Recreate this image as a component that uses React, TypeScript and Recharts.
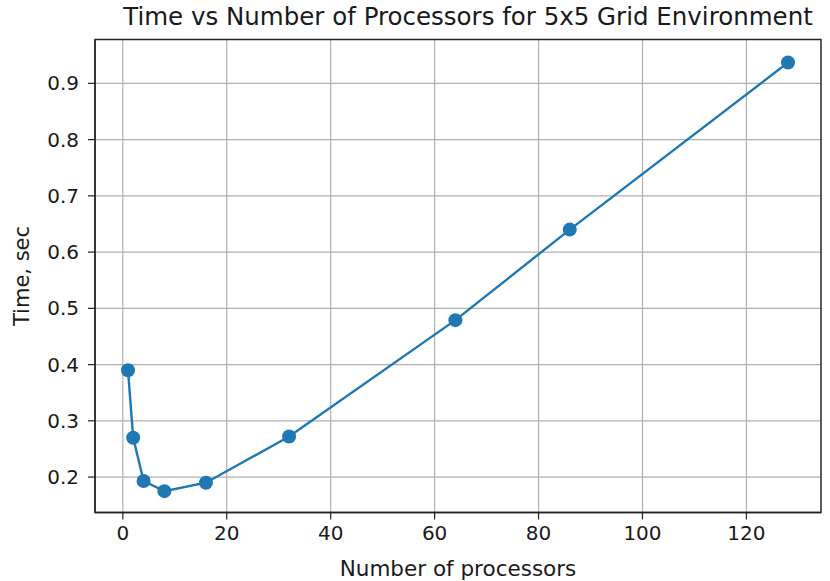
import React from 'react';
import { LineChart, Line, XAxis, YAxis, CartesianGrid, ReferenceArea } from 'recharts';

const processors = [1, 2, 4, 8, 16, 32, 64, 86, 128];
const times = [0.39, 0.27, 0.193, 0.175, 0.19, 0.272, 0.479, 0.64, 0.937];
const xTicks = [0, 20, 40, 60, 80, 100, 120];
const yTicks = [0.2, 0.3, 0.4, 0.5, 0.6, 0.7, 0.8, 0.9];
const xDomain: [number, number] = [-5.35, 134.35];
const yDomain: [number, number] = [0.137, 0.978];

const data = processors.map((p, i) => ({ x: p, y: times[i] }));

const FONT = '"DejaVu Sans", sans-serif';
const tickStyle = { fill: '#1a1a1a', fontSize: 20, fontFamily: FONT };

export default function App() {
  return (
    <div style={{ position: 'relative', width: 830, height: 581, background: '#fff', fontFamily: FONT }}>
      <style>{`body{margin:0;background:#fff}`}</style>
      <div
        style={{
          position: 'absolute',
          left: 105,
          width: 726,
          top: 2,
          textAlign: 'center',
          fontSize: 24.5,
          color: '#1a1a1a',
          whiteSpace: 'nowrap',
          lineHeight: '30px',
        }}
      >
        Time vs Number of Processors for 5x5 Grid Environment
      </div>
      <LineChart
        width={830}
        height={581}
        data={data}
        margin={{ top: 39.5, right: 9, left: 0, bottom: 0 }}
      >
        <CartesianGrid stroke="#b0b0b0" strokeWidth={1.2} />
        <XAxis
          dataKey="x"
          type="number"
          domain={xDomain}
          ticks={xTicks}
          allowDataOverflow
          height={68.5}
          tickSize={7}
          tickMargin={6}
          tick={tickStyle}
          axisLine={{ stroke: '#222', strokeWidth: 1.3 }}
          tickLine={{ stroke: '#222', strokeWidth: 1.2 }}
          label={{
            value: 'Number of processors',
            position: 'insideBottom',
            offset: 5,
            style: { fill: '#1a1a1a', fontSize: 21.5, fontFamily: FONT },
          }}
        />
        <YAxis
          type="number"
          domain={yDomain}
          ticks={yTicks}
          allowDataOverflow
          width={95}
          tickSize={7}
          tickMargin={9}
          tick={tickStyle}
          tickFormatter={(v: number) => v.toFixed(1)}
          axisLine={{ stroke: '#222', strokeWidth: 1.3 }}
          tickLine={{ stroke: '#222', strokeWidth: 1.2 }}
          label={{
            value: 'Time, sec',
            angle: -90,
            position: 'insideLeft',
            offset: 22,
            style: { fill: '#1a1a1a', fontSize: 21, fontFamily: FONT, textAnchor: 'middle' },
          }}
        />
        <ReferenceArea
          x1={xDomain[0]}
          x2={xDomain[1]}
          y1={yDomain[0]}
          y2={yDomain[1]}
          fill="none"
          fillOpacity={0}
          stroke="#222"
          strokeWidth={1.3}
          ifOverflow="visible"
        />
        <Line
          type="linear"
          dataKey="y"
          stroke="#1f77b4"
          strokeWidth={2.4}
          dot={{ r: 7, fill: '#1f77b4', stroke: 'none' }}
          activeDot={false}
          isAnimationActive={false}
        />
      </LineChart>
    </div>
  );
}
